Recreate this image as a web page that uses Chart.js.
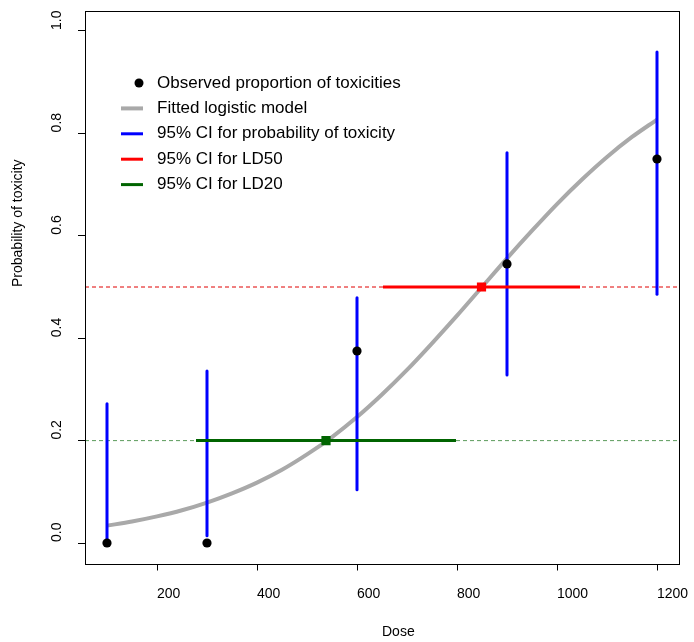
<!DOCTYPE html>
<html>
<head>
<meta charset="utf-8">
<script src="https://cdn.jsdelivr.net/npm/chart.js@4/dist/chart.umd.min.js"></script>
<style>
  html, body { margin: 0; padding: 0; background: #fff; }
  canvas { display: block; }
</style>
</head>
<body>
<canvas id="myChart" width="694" height="642"></canvas>
<script>
// observed data, CIs for each dose
const doses = [100, 300, 600, 900, 1200];
const observed = [0, 0, 0.375, 0.545, 0.75];
const ciLower = [0, 0.014, 0.104, 0.328, 0.486];
const ciUpper = [0.272, 0.336, 0.479, 0.762, 0.959];

// fitted logistic curve
const curveDoses = [100, 150, 200, 250, 300, 350, 400, 450, 500, 550, 600, 650,
                    700, 750, 800, 850, 900, 950, 1000, 1050, 1100, 1150, 1200];
const curveProb = [0.034, 0.042, 0.052, 0.064, 0.079, 0.097, 0.118, 0.143, 0.173, 0.207, 0.246, 0.290,
                   0.338, 0.390, 0.444, 0.500, 0.556, 0.610, 0.662, 0.710, 0.754, 0.793, 0.827];

// LD50 / LD20 estimates with CIs
const ld50 = [849, 0.5];
const ld50Ci = [652, 1046];
const ld20 = [538, 0.2];
const ld20Ci = [278, 798];

const xTicks = [200, 400, 600, 800, 1000, 1200];
const xTickLabels = ['200', '400', '600', '800', '1000', '1200'];
const yTicks = [0, 0.2, 0.4, 0.6, 0.8, 1.0];
const yTickLabels = ['0.0', '0.2', '0.4', '0.6', '0.8', '1.0'];

const legendLabels = ['Observed proportion of toxicities', 'Fitted logistic model',
  '95% CI for probability of toxicity', '95% CI for LD50', '95% CI for LD20'];

const FONT = '"Liberation Sans", Arial, sans-serif';
const xMin = 56, xMax = 1244;

let datasets = [];

// reference lines at 0.5 and 0.2
datasets.push({
  data: [{x: xMin, y: 0.5}, {x: xMax, y: 0.5}],
  borderColor: '#e00000', borderWidth: 1, borderDash: [4, 3],
  showLine: true, pointRadius: 0, order: 9
});
datasets.push({
  data: [{x: xMin, y: 0.2}, {x: xMax, y: 0.2}],
  borderColor: 'rgba(0,100,0,0.65)', borderWidth: 1, borderDash: [4, 3],
  showLine: true, pointRadius: 0, order: 9
});

// fitted curve
datasets.push({
  data: curveDoses.map((d, i) => ({x: d, y: curveProb[i]})),
  borderColor: '#a9a9a9', borderWidth: 4, showLine: true, pointRadius: 0,
  tension: 0.3, order: 8
});

// blue CI segments
doses.forEach((d, i) => {
  datasets.push({
    data: [{x: d, y: ciLower[i]}, {x: d, y: ciUpper[i]}],
    borderColor: '#0000ff', borderWidth: 3, borderCapStyle: 'round',
    showLine: true, pointRadius: 0, order: 7
  });
});

// LD CIs
datasets.push({
  data: [{x: ld50Ci[0], y: ld50[1]}, {x: ld50Ci[1], y: ld50[1]}],
  borderColor: '#ff0000', borderWidth: 3, showLine: true, pointRadius: 0, order: 6
});
datasets.push({
  data: [{x: ld20Ci[0], y: ld20[1]}, {x: ld20Ci[1], y: ld20[1]}],
  borderColor: '#006400', borderWidth: 3, showLine: true, pointRadius: 0, order: 6
});

// LD point estimates
datasets.push({
  data: [{x: ld50[0], y: ld50[1]}],
  pointStyle: 'rect', pointRadius: 6.5, backgroundColor: '#ff0000', borderWidth: 0, order: 5
});
datasets.push({
  data: [{x: ld20[0], y: ld20[1]}],
  pointStyle: 'rect', pointRadius: 6.5, backgroundColor: '#006400', borderWidth: 0, order: 5
});

// observed points
datasets.push({
  data: doses.map((d, i) => ({x: d, y: observed[i]})),
  pointRadius: 4.6, backgroundColor: '#000', borderWidth: 0, order: 1
});

const rPlot = {
  id: 'rPlot',
  afterDraw(chart) {
    const ctx = chart.ctx;
    const a = chart.chartArea;
    const yScale = chart.scales.y;
    ctx.save();
    // box
    ctx.strokeStyle = '#000';
    ctx.lineWidth = 1;
    ctx.strokeRect(Math.round(a.left) + 0.5, Math.round(a.top) + 0.5,
      Math.round(a.right - a.left), Math.round(a.bottom - a.top));

    ctx.fillStyle = '#000';
    ctx.font = '14px ' + FONT;
    ctx.textAlign = 'left';
    ctx.textBaseline = 'middle';

    // y tick labels, rotated and starting at the tick (adj = 0)
    yTicks.forEach((v, i) => {
      const py = yScale.getPixelForValue(v);
      ctx.save();
      ctx.translate(57, py - 1);
      ctx.rotate(-Math.PI / 2);
      ctx.fillText(yTickLabels[i], 0, 0);
      ctx.restore();
    });

    // axis titles (left-adjusted at plot centre, like the original)
    const cx = (a.left + a.right) / 2, cy = (a.top + a.bottom) / 2;
    ctx.fillText('Dose', cx, 632);
    ctx.translate(18, cy);
    ctx.rotate(-Math.PI / 2);
    ctx.fillText('Probability of toxicity', 0, 0);
    ctx.restore();

    // legend
    ctx.save();
    ctx.font = '17px ' + FONT;
    ctx.textAlign = 'left';
    ctx.textBaseline = 'middle';
    const colors = ['#000', '#a9a9a9', '#0000ff', '#ff0000', '#006400'];
    legendLabels.forEach((txt, i) => {
      const y = 83 + 25.4 * i;
      if (i === 0) {
        ctx.fillStyle = '#000';
        ctx.beginPath();
        ctx.arc(139, y, 4.5, 0, Math.PI * 2);
        ctx.fill();
      } else {
        ctx.strokeStyle = colors[i];
        ctx.lineWidth = i === 1 ? 4 : 3;
        ctx.beginPath();
        ctx.moveTo(121, y);
        ctx.lineTo(143, y);
        ctx.stroke();
      }
      ctx.fillStyle = '#000';
      ctx.fillText(txt, 157, y);
    });
    ctx.restore();
  }
};

const ctx = document.getElementById('myChart').getContext('2d');
const myChart = new Chart(ctx, {
  type: 'scatter',
  data: { datasets: datasets },
  plugins: [rPlot],
  options: {
    responsive: false,
    animation: false,
    devicePixelRatio: 1,
    layout: { padding: { top: 10.5, right: 15, left: 0, bottom: 0 } },
    plugins: { legend: { display: false }, tooltip: { enabled: false } },
    scales: {
      x: {
        type: 'linear', min: xMin, max: xMax,
        afterBuildTicks: s => { s.ticks = xTicks.map(v => ({value: v})); },
        afterFit: s => { s.height = 78.5; s.paddingLeft = 0; s.paddingRight = 0; },
        grid: { drawOnChartArea: false, drawTicks: true, tickLength: 7, color: '#000' },
        border: { display: false },
        ticks: {
          color: '#000', font: { size: 14, family: FONT }, padding: 15,
          maxRotation: 0, autoSkip: false, align: 'start',
          callback: (v, i) => xTickLabels[i]
        }
      },
      y: {
        type: 'linear', min: -0.04, max: 1.04,
        afterBuildTicks: s => { s.ticks = yTicks.map(v => ({value: v})); },
        afterFit: s => { s.width = 85; s.paddingTop = 0; s.paddingBottom = 0; },
        grid: { drawOnChartArea: false, drawTicks: true, tickLength: 7, color: '#000' },
        border: { display: false },
        ticks: {
          color: '#000', font: { size: 14, family: FONT }, autoSkip: false,
          callback: () => ''
        }
      }
    }
  }
});
</script>
</body>
</html>
